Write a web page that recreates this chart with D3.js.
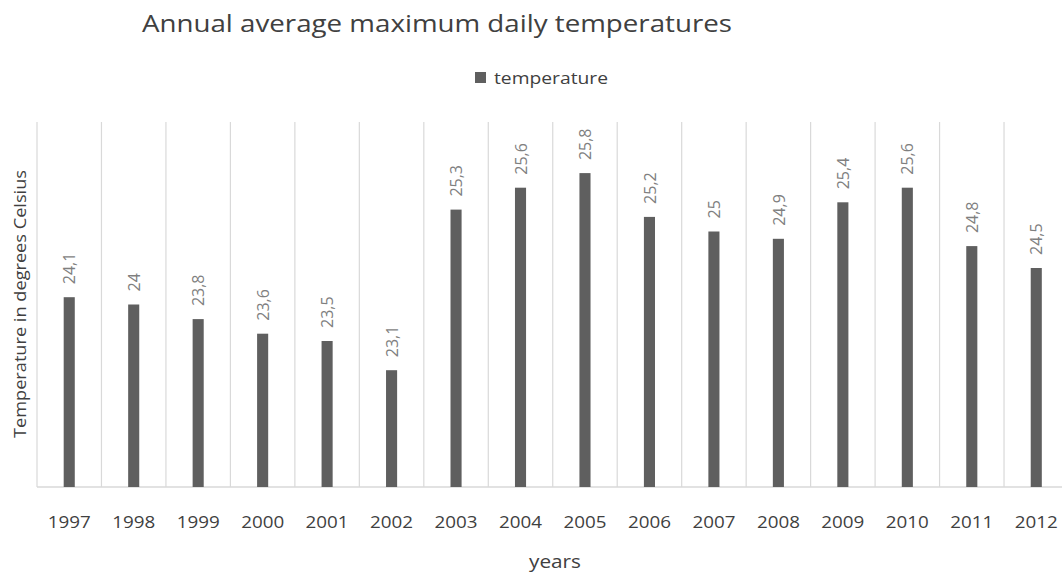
<!DOCTYPE html>
<html>
<head>
<meta charset="utf-8">
<script src="https://cdn.jsdelivr.net/npm/d3@7/dist/d3.min.js"></script>
<style>
  html, body { margin: 0; padding: 0; background: #fff; }
  svg { display: block; font-family: "Open Sans", sans-serif; }
</style>
</head>
<body>
<svg id="chart" width="1062" height="572"></svg>
<script>
const years = ["1997","1998","1999","2000","2001","2002","2003","2004","2005","2006","2007","2008","2009","2010","2011","2012"];
const temperature = [24.1, 24.0, 23.8, 23.6, 23.5, 23.1, 25.3, 25.6, 25.8, 25.2, 25.0, 24.9, 25.4, 25.6, 24.8, 24.5];
const valueLabels = ["24,1","24","23,8","23,6","23,5","23,1","25,3","25,6","25,8","25,2","25","24,9","25,4","25,6","24,8","24,5"];
const yDomain = [21.5, 26.5];

const svg = d3.select("#chart");
const W = 1062, H = 572;
const plot = { left: 37, right: 1068.5, top: 122, bottom: 487 };

const x = d3.scaleBand().domain(years).range([plot.left, plot.right]).paddingInner(0).paddingOuter(0);
const y = d3.scaleLinear().domain(yDomain).range([plot.bottom, plot.top]);

// Title
svg.append("text")
  .attr("x", 142).attr("y", 32)
  .attr("font-size", 24).attr("fill", "#404040")
  .attr("textLength", 590).attr("lengthAdjust", "spacingAndGlyphs")
  .text("Annual average maximum daily temperatures");

// Legend
svg.append("rect").attr("x", 475).attr("y", 72).attr("width", 11).attr("height", 11).attr("fill", "#5f5f5f");
svg.append("text")
  .attr("x", 494).attr("y", 83.5)
  .attr("font-size", 17).attr("fill", "#404040")
  .attr("textLength", 114).attr("lengthAdjust", "spacingAndGlyphs")
  .text("temperature");

// Vertical gridlines at band boundaries
const bounds = years.map(d => x(d)).concat([x(years[years.length-1]) + x.bandwidth()]);
svg.append("g").selectAll("line").data(bounds).join("line")
  .attr("x1", d => d).attr("x2", d => d)
  .attr("y1", plot.top).attr("y2", plot.bottom)
  .attr("stroke", "#d9d9d9").attr("stroke-width", 1.2);

// Baseline
svg.append("line")
  .attr("x1", plot.left).attr("x2", W)
  .attr("y1", plot.bottom).attr("y2", plot.bottom)
  .attr("stroke", "#d9d9d9").attr("stroke-width", 1.5);

// Bars
const barW = x.bandwidth() * 0.172;
svg.append("g").selectAll("rect").data(years).join("rect")
  .attr("x", (d) => x(d) + x.bandwidth()/2 - barW/2)
  .attr("width", barW)
  .attr("y", (d, i) => y(temperature[i]))
  .attr("height", (d, i) => plot.bottom - y(temperature[i]))
  .attr("fill", "#5f5f5f");

// Value labels (rotated)
svg.append("g").selectAll("text").data(years).join("text")
  .attr("transform", (d, i) => `translate(${x(d) + x.bandwidth()/2 + 0.5},${y(temperature[i]) - 13}) rotate(-90)`)
  .attr("dy", "0.35em")
  .attr("font-size", 16).attr("fill", "#7f7f7f")
  .text((d, i) => valueLabels[i]);

// X axis tick labels
const xAxis = d3.axisBottom(x).tickSize(0).tickPadding(0);
const gx = svg.append("g").attr("transform", `translate(0,${plot.bottom})`).call(xAxis);
gx.select(".domain").remove();
gx.selectAll("text")
  .attr("y", 41).attr("dy", 0)
  .attr("font-family", "Open Sans, sans-serif")
  .attr("font-size", 17).attr("fill", "#404040")
  .attr("textLength", 43).attr("lengthAdjust", "spacingAndGlyphs");

// Axis titles
svg.append("text")
  .attr("x", 555).attr("y", 568)
  .attr("text-anchor", "middle")
  .attr("font-size", 18).attr("fill", "#404040")
  .attr("textLength", 52).attr("lengthAdjust", "spacingAndGlyphs")
  .text("years");

svg.append("text")
  .attr("transform", "translate(26,304) rotate(-90)")
  .attr("text-anchor", "middle")
  .attr("font-size", 17).attr("fill", "#404040")
  .attr("textLength", 268).attr("lengthAdjust", "spacingAndGlyphs")
  .text("Temperature in degrees Celsius");
</script>
</body>
</html>
